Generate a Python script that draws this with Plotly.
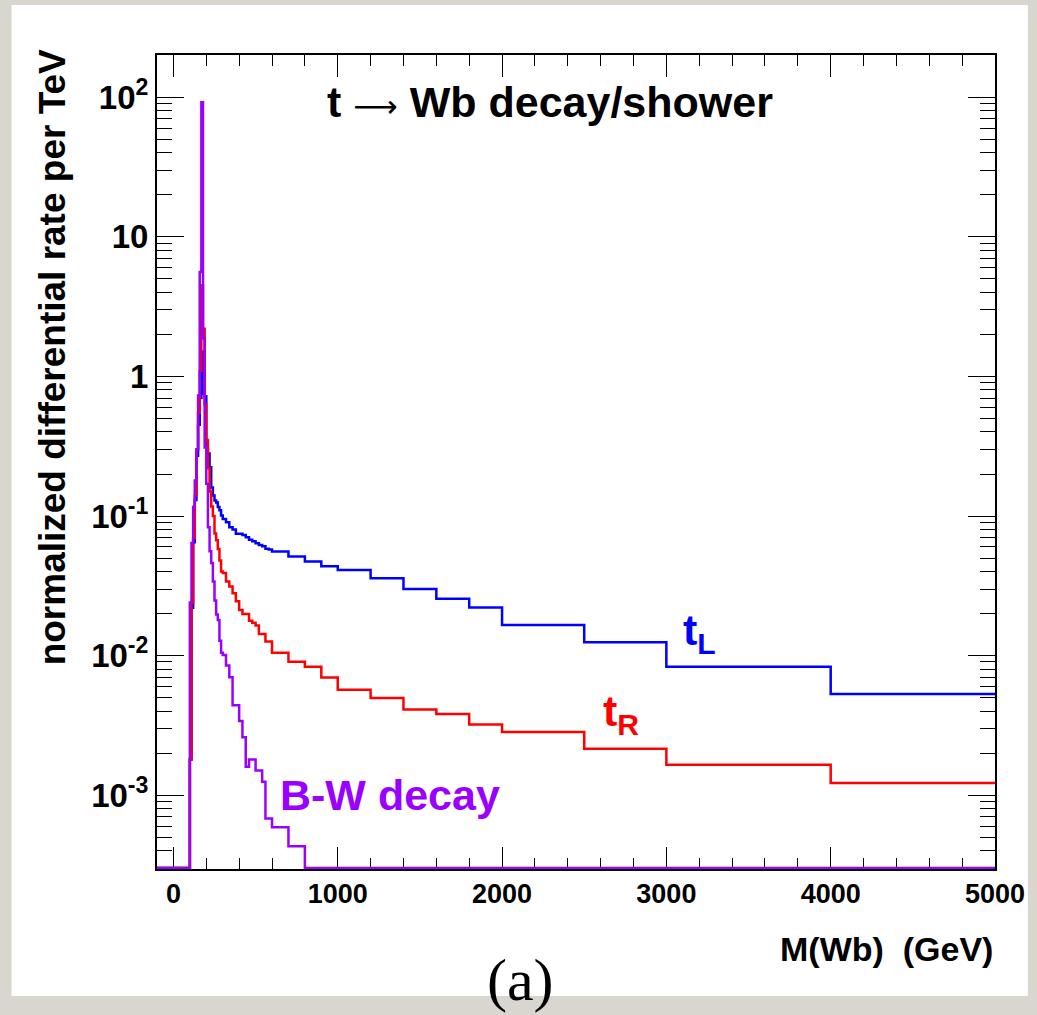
import math
import plotly.graph_objects as go

# ---------------- data ----------------
bin_edges = [100, 110, 120, 130, 140, 150, 160, 170, 180, 190, 200,
             210, 220, 230, 240, 250, 260, 270, 280, 290, 300,
             320, 340, 360, 380, 400, 420, 440, 460, 480, 500,
             520, 540, 560, 580, 600,
             700, 800, 900, 1000, 1200, 1400, 1600, 1800, 2000,
             2500, 3000, 4000, 5000]

tL_rate = [0.0018, 0.022, 0.065, 0.13, 0.27, 0.45, 0.70, 1.5, 0.75, 0.72,
           0.30, 0.28, 0.224, 0.16, 0.14, 0.129, 0.125, 0.116, 0.110, 0.101,
           0.095, 0.0904, 0.0832, 0.080, 0.0745, 0.0745, 0.073, 0.0705, 0.0675, 0.066,
           0.0639, 0.062, 0.0608, 0.0582, 0.0575,
           0.0556, 0.0512, 0.0472, 0.0436, 0.0411, 0.0358, 0.0300, 0.0255, 0.0221,
           0.01655, 0.01245, 0.00832, 0.00531]

tR_rate = [0.0018, 0.024, 0.07, 0.14, 0.30, 0.55, 1.1, 4.5, 2.2, 0.63,
           0.35, 0.22, 0.15, 0.117, 0.100, 0.075, 0.067, 0.058, 0.048, 0.040,
           0.039, 0.034, 0.0313, 0.028, 0.0245, 0.0212, 0.0199, 0.0199, 0.0178, 0.0172,
           0.0164, 0.0143, 0.0143, 0.0126, 0.0126,
           0.0105, 0.00904, 0.00832, 0.00698, 0.00569, 0.00497, 0.00411, 0.00381, 0.00321,
           0.00284, 0.00215, 0.00165, 0.00122]

bw_rate = [0.024, 0.064, 0.116, 0.18, 0.30, 0.73, 5.6, 92, 1.87, 0.31,
           0.17, 0.083, 0.056, 0.046, 0.034, 0.0248, 0.0197, 0.018, 0.0128, 0.0105,
           0.0101, 0.0085, 0.0070, 0.0044, 0.0044, 0.0034, 0.0026, 0.0016, 0.0018, 0.0018,
           0.0015, 0.0015, 0.00125, 0.00068, 0.00068,
           0.00059, 0.00043, 0, 0, 0, 0, 0, 0, 0,
           0, 0, 0, 0]

x_tick_vals = [0, 1000, 2000, 3000, 4000, 5000]
x_tick_text = ["0", "1000", "2000", "3000", "4000", "5000"]
y_tick_vals = [1e-3, 1e-2, 1e-1, 1, 10, 100]
y_tick_text = ["10<sup>-3</sup>", "10<sup>-2</sup>", "10<sup>-1</sup>", "1", "10", "10<sup>2</sup>"]

# ---------------- geometry ----------------
W, H = 1037, 1015
L, R, T, B = 157, 998, 55, 869          # plot frame in pixels
X_RANGE = [-100, 5000]
LOG_LO, LOG_HI = -3.529, 2.303
DECADE_PX = (B - T) / (LOG_HI - LOG_LO)
FLOOR = 10 ** (LOG_LO + 1.0 / DECADE_PX)  # empty bins drawn along the bottom

def px(x):
    return (x - L) / (R - L)

def py(y):
    return (B - y) / (B - T)

def step_xy(values):
    xs = [X_RANGE[0]] + list(bin_edges)
    vals = [v if v > 0 else FLOOR for v in values]
    ys = [FLOOR] + vals + [vals[-1]]
    return xs, ys

fig = go.Figure()
for vals, col in [(tL_rate, "#0000ff"), (tR_rate, "#ff0000"), (bw_rate, "#9a00ff")]:
    xs, ys = step_xy(vals)
    fig.add_trace(go.Scatter(x=xs, y=ys, mode="lines", line_shape="hv",
                             line=dict(color=col, width=2.5), hoverinfo="skip",
                             showlegend=False))

FAM = "Liberation Sans, Arial, Helvetica, sans-serif"
BOLD = dict(family=FAM, color="black", weight="bold")

fig.update_xaxes(range=X_RANGE, showgrid=False, zeroline=False,
                 showline=True, linecolor="black", linewidth=2, mirror="ticks",
                 ticks="inside", ticklen=22, tickwidth=1.3, tickcolor="black",
                 tickmode="array", tickvals=x_tick_vals, ticktext=x_tick_text,
                 tickfont=dict(size=27, **BOLD),
                 minor=dict(ticks="inside", ticklen=11, tickwidth=1.3, tickcolor="black",
                            tickmode="array",
                            tickvals=[v for v in range(200, 5000, 200) if v % 1000]),
                 layer="below traces")

y_minor = [m * 10 ** k for k in range(-4, 3) for m in range(2, 10)
           if LOG_LO < math.log10(m * 10 ** k) < LOG_HI - 0.01]
fig.update_yaxes(type="log", range=[LOG_LO, LOG_HI], showgrid=False, zeroline=False,
                 showline=True, linecolor="black", linewidth=2, mirror="ticks",
                 ticks="inside", ticklen=27, tickwidth=1.3, tickcolor="black",
                 tickmode="array", tickvals=y_tick_vals, ticktext=y_tick_text,
                 tickfont=dict(size=33, **BOLD),
                 minor=dict(ticks="inside", ticklen=15, tickwidth=1.3, tickcolor="black",
                            tickmode="array", tickvals=y_minor),
                 layer="below traces")

title_text = ("t <span style=\"font-family:'DejaVu Sans';font-weight:normal;font-size:31px\">"
              "\u27f6</span> Wb decay/shower")

annotations = [
    dict(text=title_text, x=px(326), y=py(102), xanchor="left",
         yanchor="middle", font=dict(size=43, **BOLD)),
    dict(text="t<sub>L</sub>", x=px(683), y=py(633), xanchor="left", yanchor="middle",
         font=dict(size=43, family=FAM, weight="bold", color="#0000ff")),
    dict(text="t<sub>R</sub>", x=px(603), y=py(714), xanchor="left", yanchor="middle",
         font=dict(size=43, family=FAM, weight="bold", color="#ff0000")),
    dict(text="B-W decay", x=px(278), y=py(795), xanchor="left", yanchor="middle",
         font=dict(size=43, family=FAM, weight="bold", color="#9a00ff")),
    dict(text="M(Wb)\u00a0\u00a0(GeV)", x=px(998), y=py(949), xanchor="right",
         yanchor="middle", font=dict(size=34, **BOLD)),
    dict(text="normalized differential rate per TeV", x=px(52), y=py(357),
         xanchor="center", yanchor="middle", textangle=-90,
         font=dict(size=37, **BOLD)),
    dict(text="(a)", x=px(522), y=py(980), xanchor="center", yanchor="middle",
         font=dict(size=60, family="Liberation Serif, DejaVu Serif, serif", color="black")),
]
for a in annotations:
    a.update(xref="paper", yref="paper", showarrow=False)

fig.update_layout(
    width=W, height=H,
    margin=dict(l=L, r=W - R, t=T, b=H - B, pad=0),
    paper_bgcolor="#d9d6d0",
    plot_bgcolor="white",
    annotations=annotations,
    shapes=[dict(type="rect", xref="paper", yref="paper", layer="below",
                 x0=px(11), x1=px(1031), y0=py(996), y1=py(5),
                 fillcolor="white", line=dict(width=0))],
)

fig.write_html("out.html", config={"displayModeBar": False},
               post_script="document.body.style.margin='0';")
